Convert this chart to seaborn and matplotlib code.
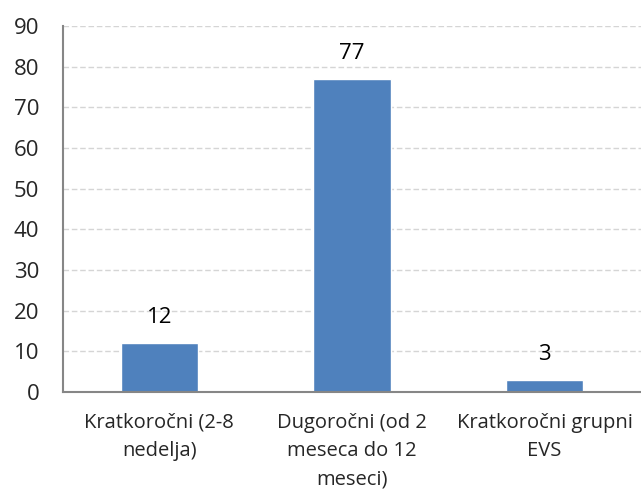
import matplotlib
matplotlib.use("Agg")
import matplotlib.pyplot as plt
import seaborn as sns
import pandas as pd

categories = ["Kratkoročni (2-8\nnedelja)", "Dugoročni (od 2\nmeseca do 12\nmeseci)", "Kratkoročni grupni\nEVS"]
values = [12, 77, 3]
yticks = [0, 10, 20, 30, 40, 50, 60, 70, 80, 90]

sns.set_theme(style="white")
plt.rcParams['font.family'] = ['Open Sans', 'DejaVu Sans']

df = pd.DataFrame({"cat": categories, "val": values})
fig = plt.figure(figsize=(6.41, 4.91), dpi=100)
ax = fig.add_axes([63/641, 1-392/491, 1-63/641, (392-26)/491])
sns.barplot(data=df, x="cat", y="val", color="#4F81BD", width=0.4, saturation=1, ax=ax)
ax.set_ylim(0, 90)
ax.set_yticks(yticks)
ax.set_yticklabels([str(t) for t in yticks], fontsize=16)
ax.set_xlabel("")
ax.set_ylabel("")
ax.tick_params(axis='x', labelsize=14.5, length=0, pad=15)
ax.tick_params(axis='y', length=0, pad=17)
for lbl in ax.get_xticklabels():
    lbl.set_linespacing(1.56)
ax.yaxis.grid(True, color="#D5D5D5", linestyle=(0, (4, 2)), linewidth=1)
ax.set_axisbelow(True)
for s in ["top", "right"]:
    ax.spines[s].set_visible(False)
for s in ["left", "bottom"]:
    ax.spines[s].set_color("#868686")
    ax.spines[s].set_linewidth(1.5)
for c in ax.containers:
    ax.bar_label(c, labels=[str(v) for v in values], padding=11, fontsize=16, color="black")
fig.savefig("out.png", dpi=100)
